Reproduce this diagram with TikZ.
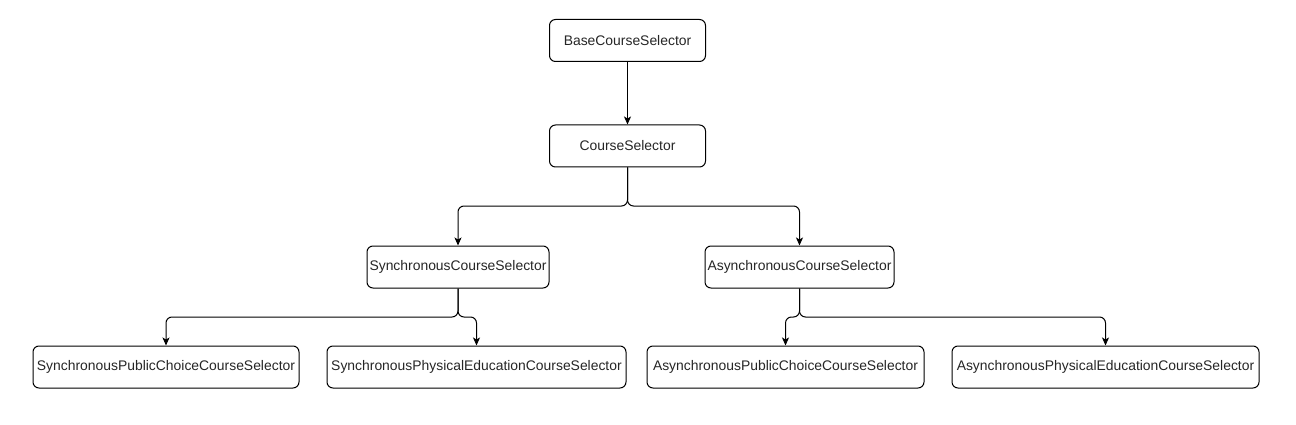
\documentclass[tikz,border=0pt]{standalone}
\usepackage{fontspec}
\setmainfont{Liberation Sans}
\usetikzlibrary{arrows.meta}
\begin{document}
\begin{tikzpicture}[x=1pt,y=-1pt,
  box/.style={draw=black, line width=1pt, rounded corners=6pt, fill=white,
    inner sep=0pt, minimum height=42pt, align=center,
    font=\fontsize{13.9}{16}\selectfont, text=black!85},
  conn/.style={draw=black, line width=1pt, rounded corners=6pt,
    -{Stealth[length=8pt,width=7pt,inset=2pt]}}]
\useasboundingbox (0,0) rectangle (1296,425);
\node[box, minimum width=156pt] (base) at (627.5,40.5) {BaseCourseSelector};
\node[box, minimum width=156pt] (cs) at (627.5,146) {CourseSelector};
\node[box, minimum width=182pt] (sync) at (458,267) {SynchronousCourseSelector};
\node[box, minimum width=189pt] (async) at (799.5,267) {AsynchronousCourseSelector};
\node[box, minimum width=266pt] (spc) at (166,367) {SynchronousPublicChoiceCourseSelector};
\node[box, minimum width=299pt] (spe) at (476.5,367) {SynchronousPhysicalEducationCourseSelector};
\node[box, minimum width=277pt] (apc) at (785.5,367) {AsynchronousPublicChoiceCourseSelector};
\node[box, minimum width=307pt] (ape) at (1105.5,367) {AsynchronousPhysicalEducationCourseSelector};
\coordinate (m1) at (0,206);
\coordinate (m2) at (0,317);
\draw[conn] (base) -- (cs);
\draw[conn] (cs.south) -- (cs.south |- m1) -| (sync.north);
\draw[conn] (cs.south) -- (cs.south |- m1) -| (async.north);
\draw[conn] (sync.south) -- (sync.south |- m2) -| (spc.north);
\draw[conn] (sync.south) -- (sync.south |- m2) -| (spe.north);
\draw[conn] (async.south) -- (async.south |- m2) -| (apc.north);
\draw[conn] (async.south) -- (async.south |- m2) -| (ape.north);
\end{tikzpicture}
\end{document}
